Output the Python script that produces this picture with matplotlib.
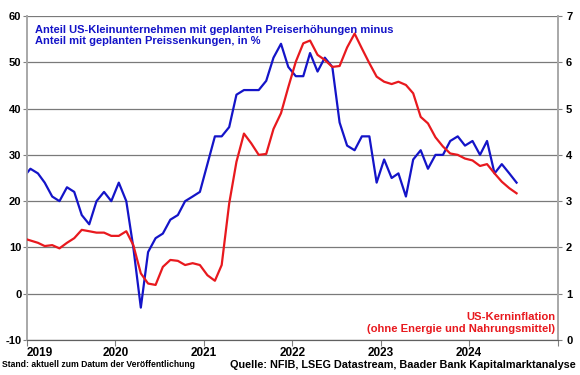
import pandas as pd
import matplotlib
matplotlib.use("Agg")
import matplotlib.pyplot as plt

plt.rcParams['font.family'] = ['Liberation Sans', 'DejaVu Sans']
plt.rcParams['font.weight'] = 'bold'
plt.rcParams['axes.unicode_minus'] = False

# monatliche Werte, Dez 2018 bis Jul 2024 (Mitte des Monats)
months = pd.date_range('2018-12-01', '2024-07-01', freq='MS') + pd.Timedelta(days=14)

# NFIB: Anteil mit geplanten Preiserhoehungen minus Anteil mit Preissenkungen (%)
nfib = [25,
        27, 26, 24, 21, 20, 23, 22, 17, 15, 20, 22, 20,
        24, 20, 10, -3, 9, 12, 13, 16, 17, 20, 21, 22,
        28, 34, 34, 36, 43, 44, 44, 44, 46, 51, 54, 49,
        47, 47, 52, 48, 51, 49, 37, 32, 31, 34, 34, 24,
        29, 25, 26, 21, 29, 31, 27, 30, 30, 33, 34, 32,
        33, 30, 33, 26, 28, 26, 24]

# US-Kerninflation, % gg. Vj.
core_cpi = [2.2,
            2.15, 2.1, 2.03, 2.05, 1.98, 2.1, 2.2, 2.38, 2.35, 2.32, 2.32, 2.25,
            2.25, 2.35, 2.05, 1.44, 1.22, 1.19, 1.58, 1.73, 1.71, 1.62, 1.66, 1.62,
            1.4, 1.28, 1.62, 2.95, 3.85, 4.46, 4.25, 4.0, 4.02, 4.56, 4.9, 5.46,
            6.01, 6.41, 6.47, 6.16, 6.05, 5.9, 5.92, 6.32, 6.62, 6.3, 5.98, 5.69,
            5.58, 5.53, 5.58, 5.51, 5.33, 4.82, 4.68, 4.38, 4.18, 4.03, 4.0, 3.92,
            3.88, 3.76, 3.8, 3.6, 3.42, 3.28, 3.17]

years = ['2019', '2020', '2021', '2022', '2023', '2024', '2025']
year_labels = ['2019', '2020', '2021', '2022', '2023', '2024', '']

blue = '#1414c8'
red = '#e8191e'
grid_col = '#7a7a7a'

fig = plt.figure(figsize=(5.8, 3.75), dpi=100)
ax = fig.add_axes([0.0466, 0.0933, 0.915, 0.864])
ax2 = ax.twinx()

ax.plot(months, nfib, color=blue, lw=1.6, zorder=3)
ax2.plot(months, core_cpi, color=red, lw=1.6, zorder=3)

ax.set_xlim(pd.Timestamp('2019-01-01'), pd.Timestamp('2025-01-01'))
ax.set_ylim(-10, 60)
ax2.set_ylim(0, 7)
ax.set_yticks(range(-10, 61, 10))
ax2.set_yticks(range(0, 8))

ax.set_xticks([pd.Timestamp(y + '-01-01') for y in years])
ax.set_xticklabels(year_labels)
ax.get_xticklabels()[0].set_horizontalalignment('left')

ax.grid(axis='y', color=grid_col, lw=0.9)
ax.set_axisbelow(True)

for a in (ax, ax2):
    a.spines['top'].set_visible(False)
    a.spines['left'].set_color('#a8a8a8')
    a.spines['right'].set_color('#a8a8a8')
    a.spines['bottom'].set_color('#606060')
    a.spines['left'].set_linewidth(1.2)
    a.spines['right'].set_linewidth(1.2)
    a.tick_params(labelsize=8, length=3, color='#808080', pad=2)

ax.tick_params(axis='x', length=4, pad=1, labelsize=8.5)
ax.tick_params(axis='y', pad=1)
ax2.tick_params(axis='y', pad=3)

ax.text(0.015, 0.972, 'Anteil US-Kleinunternehmen mit geplanten Preiserhöhungen minus\n'
        'Anteil mit geplanten Preissenkungen, in %',
        transform=ax.transAxes, color=blue, fontsize=8.0, fontweight='bold',
        va='top', ha='left', linespacing=1.15)

ax.text(0.995, 0.02, 'US-Kerninflation\n(ohne Energie und Nahrungsmittel)',
        transform=ax.transAxes, color=red, fontsize=8.1, fontweight='bold',
        va='bottom', ha='right', linespacing=1.15)

fig.text(0.004, 0.016, 'Stand: aktuell zum Datum der Veröffentlichung',
         fontsize=6.2, fontweight='bold', ha='left', va='bottom')
fig.text(0.993, 0.012, 'Quelle: NFIB, LSEG Datastream, Baader Bank Kapitalmarktanalyse',
         fontsize=7.8, fontweight='bold', ha='right', va='bottom')

fig.savefig('out.png', dpi=100)
